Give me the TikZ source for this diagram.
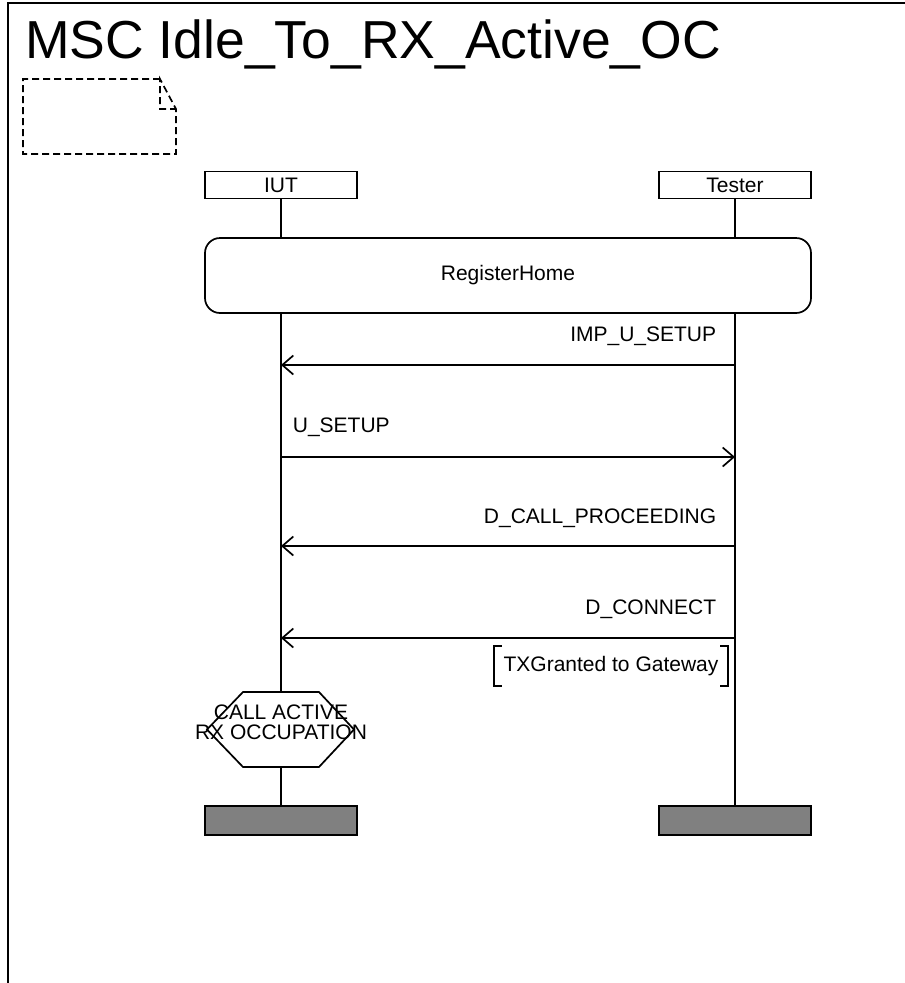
\documentclass[tikz,border=0pt]{standalone}
\usepackage{fontspec}
\setmainfont{Liberation Sans}
\usetikzlibrary{arrows.meta,positioning}

\begin{document}
\begin{tikzpicture}[x=1pt, y=1pt, every node/.style={font=\fontsize{21}{20}\selectfont}]
\tikzset{inst/.style={draw, line width=1.7pt, minimum width=152pt, minimum height=27pt, inner sep=0pt}}
\tikzset{stopbox/.style={draw, line width=1.7pt, fill=gray, minimum width=152pt, minimum height=29pt, inner sep=0pt}}
\tikzset{msg/.style={-{Straight Barb[length=11pt, width=19pt]}, line width=1.7pt}}
\tikzset{lblr/.style={pos=0, anchor=base east, inner sep=0pt, xshift=-18pt, yshift=24pt}}
\tikzset{lbll/.style={pos=0, anchor=base west, inner sep=0pt, xshift=11pt, yshift=25pt}}
\useasboundingbox (0,0) rectangle (905,-983);
% frame and title
\draw[line width=2pt] (8,-983) -- (8,-3) -- (905,-3);
\node[anchor=base west, inner sep=0pt, font=\fontsize{53.5}{53}\selectfont] (title) at (25,-58) {MSC Idle\_To\_RX\_Active\_OC};
% empty comment symbol
\draw[dashed, dash pattern=on 7pt off 4pt, line width=1.7pt] (160,-79) -- (23,-79) -- (23,-154) -- (176,-154) -- (176,-109) -- (160,-79) -- (160,-109) -- (176,-109);
% instances
\node[inst] (iut) at (281,-185) {IUT};
\node[inst, right=300.3pt of iut] (tester) {Tester};
\node[stopbox, below=606pt of iut.south] (iutend) {};
\node[stopbox, below=606pt of tester.south] (testerend) {};
\draw[line width=1.7pt] (iut) -- (iutend);
\draw[line width=1.7pt] (tester) -- (testerend);
% reference
\node[draw, line width=1.7pt, fill=white, rounded corners=15pt, minimum width=606pt, minimum height=75pt] (reg) at (508,-275.5) {RegisterHome};
% messages
\coordinate (impT) at (735,-365);
\coordinate (impI) at (281,-365);
\coordinate (setI) at (281,-457);
\coordinate (setT) at (735,-457);
\coordinate (procT) at (735,-546);
\coordinate (procI) at (281,-546);
\coordinate (conT) at (735,-638);
\coordinate (conI) at (281,-638);
\draw[msg] (impT) -- node[lblr] {IMP\_U\_SETUP} (impI);
\draw[msg] (setI) -- node[lbll] {U\_SETUP} (setT);
\draw[msg] (procT) -- node[lblr, yshift=-1pt] {D\_CALL\_PROCEEDING} (procI);
\draw[msg] (conT) -- node[lblr] {D\_CONNECT} (conI);
% action
\node[minimum width=234pt, minimum height=39pt, inner sep=0pt] (txg) at (611,-666) {TXGranted to Gateway};
\draw[line width=1.7pt] ([xshift=8pt]txg.north west) -- (txg.north west) -- (txg.south west) -- ++(8,0);
\draw[line width=1.7pt] ([xshift=-8pt]txg.north east) -- (txg.north east) -- (txg.south east) -- ++(-8,0);
% condition
\draw[line width=1.7pt, fill=white] (243,-692) -- (319,-692) -- (354,-729.5) -- (319,-767) -- (243,-767) -- (207,-729.5) -- cycle;
\node[align=center, inner sep=0pt] (cond) at (281,-722) {CALL ACTIVE\\RX OCCUPATION};
\end{tikzpicture}
\end{document}
